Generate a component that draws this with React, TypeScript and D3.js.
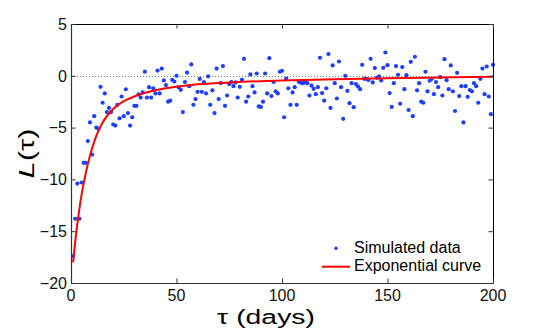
import React from "react";
import * as d3 from "d3";

// Simulated data: L(τ) for τ = 1..200
const simulatedL: number[] = [
  -17.4, -13.8, -10.4, -13.8, -10.3, -8.4, -8.4, -6.3, -4.5, -7.6,
  -3.9, -5.0, -5.1, -1.06, -2.6, -1.7, -3.5, -3.1, -3.5, -4.7,
  -4.8, -2.8, -4.1, -2.0, -3.9, -1.3, -3.6, -4.8, -4.0, -2.9,
  -2.9, -1.8, -2.1, -1.6, 0.4, -2.1, -1.1, -2.1, -1.2, -1.7,
  0.5, -1.7, 0.7, -0.45, -0.9, -2.5, -2.4, -0.4, -0.55, 0.0,
  -1.1, -1.35, -3.5, -0.6, 0.3, -1.0, 1.1, -2.8, -2.25, -1.55,
  -0.3, -1.55, -0.6, -1.7, -0.05, -2.8, -1.4, -3.6, 0.7, -2.25,
  -0.7, 0.94, -2.9, -1.9, -0.8, -0.6, -1.0, -0.64, -2.1, -1.06,
  -0.39, 1.64, -2.5, -2.0, 0.13, -1.0, -1.6, 0.22, -2.96, -3.0,
  -2.5, 0.22, -1.7, 1.7, -1.96, -0.6, -1.5, -1.7, 0.39, 0.48,
  -4.0, -0.26, -1.2, -2.8, -1.6, -1.1, -2.8, -0.58, -0.68, -0.71,
  -0.58, -0.71, -1.9, -0.95, -1.26, -1.77, -1.1, 1.74, -1.67, -2.4,
  -1.2, 2.1, -3.1, 1.0, -0.71, -2.19, 1.38, -1.1, -4.15, 0.0,
  -1.45, -2.64, -0.71, -3.03, -0.8, -1.03, -1.29, 1.06, -0.29, -0.29,
  -0.4, 1.64, -0.64, 0.75, -0.2, -0.06, -0.45, 0.77, 2.25, 1.03,
  -1.67, -3.0, -0.71, 0.94, 0.1, -2.7, 0.84, -1.29, 0.06, -3.3,
  1.35, -3.9, 1.84, -1.4, -0.71, -2.5, -2.6, 0.39, -1.5, -0.48,
  -0.29, -1.77, -0.6, -1.1, -0.13, -1.9, 1.6, -0.42, -1.29, 1.0,
  -1.5, -3.4, 0.29, -1.96, -1.0, -4.5, -1.0, -2.03, -1.38, -1.5,
  -0.71, -1.0, -2.6, -0.29, 0.7, -1.77, 0.9, -2.0, -3.7, 1.06,
];

// Exponential curve samples
const curveTau: number[] = [1, 2, 3, 4, 5, 6, 8, 10, 12, 15, 20, 25, 30, 40, 50, 60, 75, 100, 125, 150, 175, 200];
const curveL: number[] = [-18, -16, -14.3, -12.8, -11.5, -10.4, -8.5, -7.0, -5.8, -4.5, -3.2, -2.45, -2.0, -1.4, -1.05, -0.82, -0.65, -0.45, -0.33, -0.24, -0.16, -0.1];

const xTicks: number[] = [0, 50, 100, 150, 200];
const yTicks: number[] = [-20, -15, -10, -5, 0, 5];
const legendLabels: string[] = ["Simulated data", "Exponential curve"];

const W = 545;
const H = 328;
const FONT = "'Liberation Sans', Arial, Helvetica, sans-serif";

export default function App() {
  const x = d3.scaleLinear().domain([0, 200]).range([71, 493]);
  const y = d3.scaleLinear().domain([-20, 5]).range([283, 24]);
  const [x0, x1] = x.range();
  const [y0, y1] = y.range();

  const taus = d3.range(1, simulatedL.length + 1);
  const curvePts: [number, number][] = curveTau.map((t, i) => [t, curveL[i]]);
  const line = d3
    .line<[number, number]>()
    .x((d) => x(d[0]))
    .y((d) => y(d[1]))
    .curve(d3.curveMonotoneX);

  const tickLen = 4.5;
  const axisColor = "#333";
  const dotColor = "#1f3fff";

  return (
    <svg
      width={W}
      height={H}
      style={{ position: "absolute", left: 0, top: 0, background: "#fff" }}
      fontFamily={FONT}
    >
      <rect x={0} y={0} width={W} height={H} fill="#fff" />
      {/* zero dotted line */}
      <line
        x1={x0}
        x2={x1}
        y1={Math.round(y(0)) + 0.5}
        y2={Math.round(y(0)) + 0.5}
        stroke="#777"
        strokeWidth={1}
        strokeDasharray="1,2"
      />
      {/* data points */}
      {taus.map((t, i) => (
        <circle key={i} cx={x(t)} cy={y(simulatedL[i])} r={2.1} fill={dotColor} />
      ))}
      {/* curve */}
      <path d={line(curvePts) || ""} fill="none" stroke="#ff0000" strokeWidth={2} />

      {/* axes box */}
      <line x1={x0} x2={x1} y1={y1 + 0.5} y2={y1 + 0.5} stroke="#000" strokeWidth={1} />
      <line x1={x1 + 0.5} x2={x1 + 0.5} y1={y1} y2={y0} stroke="#000" strokeWidth={1} />
      <line x1={x0 + 0.5} x2={x0 + 0.5} y1={y1} y2={y0} stroke={axisColor} strokeWidth={1.2} />
      <line x1={x0} x2={x1 + 1} y1={y0 + 0.5} y2={y0 + 0.5} stroke={axisColor} strokeWidth={1.2} />

      {/* x ticks */}
      {xTicks.map((t) => (
        <g key={"xt" + t}>
          <line x1={x(t) + 0.5} x2={x(t) + 0.5} y1={y0} y2={y0 - tickLen} stroke={axisColor} />
          <line x1={x(t) + 0.5} x2={x(t) + 0.5} y1={y1} y2={y1 + tickLen} stroke={axisColor} />
          <text x={x(t)} y={301} textAnchor="middle" fontSize={16} fill="#111">
            {t}
          </text>
        </g>
      ))}
      {/* y ticks */}
      {yTicks.map((t) => (
        <g key={"yt" + t}>
          <line x1={x0} x2={x0 + tickLen} y1={y(t) + 0.5} y2={y(t) + 0.5} stroke={axisColor} />
          <line x1={x1} x2={x1 - tickLen} y1={y(t) + 0.5} y2={y(t) + 0.5} stroke={axisColor} />
          <text x={67} y={y(t) + 5.7} textAnchor="end" fontSize={16} fill="#111">
            {t < 0 ? "\u2212" + Math.abs(t) : String(t)}
          </text>
        </g>
      ))}

      {/* axis labels */}
      <text
        transform="translate(266, 324) scale(1.35, 1)"
        textAnchor="middle"
        fontSize={21}
        fill="#000"
      >
        τ (days)
      </text>
      <text
        transform={`translate(34, ${(y0 + y1) / 2}) rotate(-90) scale(1.4, 1)`}
        textAnchor="middle"
        fontSize={22}
        fill="#000"
      >
        <tspan fontStyle="italic">L</tspan>
        <tspan>(τ)</tspan>
      </text>

      {/* legend */}
      <circle cx={336} cy={248.3} r={1.8} fill={dotColor} />
      <text x={354} y={253.3} fontSize={16} fill="#000">
        {legendLabels[0]}
      </text>
      <line x1={322} x2={350} y1={266.7} y2={266.7} stroke="#ff0000" strokeWidth={2} />
      <text x={354} y={270.7} fontSize={16} fill="#000">
        {legendLabels[1]}
      </text>
    </svg>
  );
}
